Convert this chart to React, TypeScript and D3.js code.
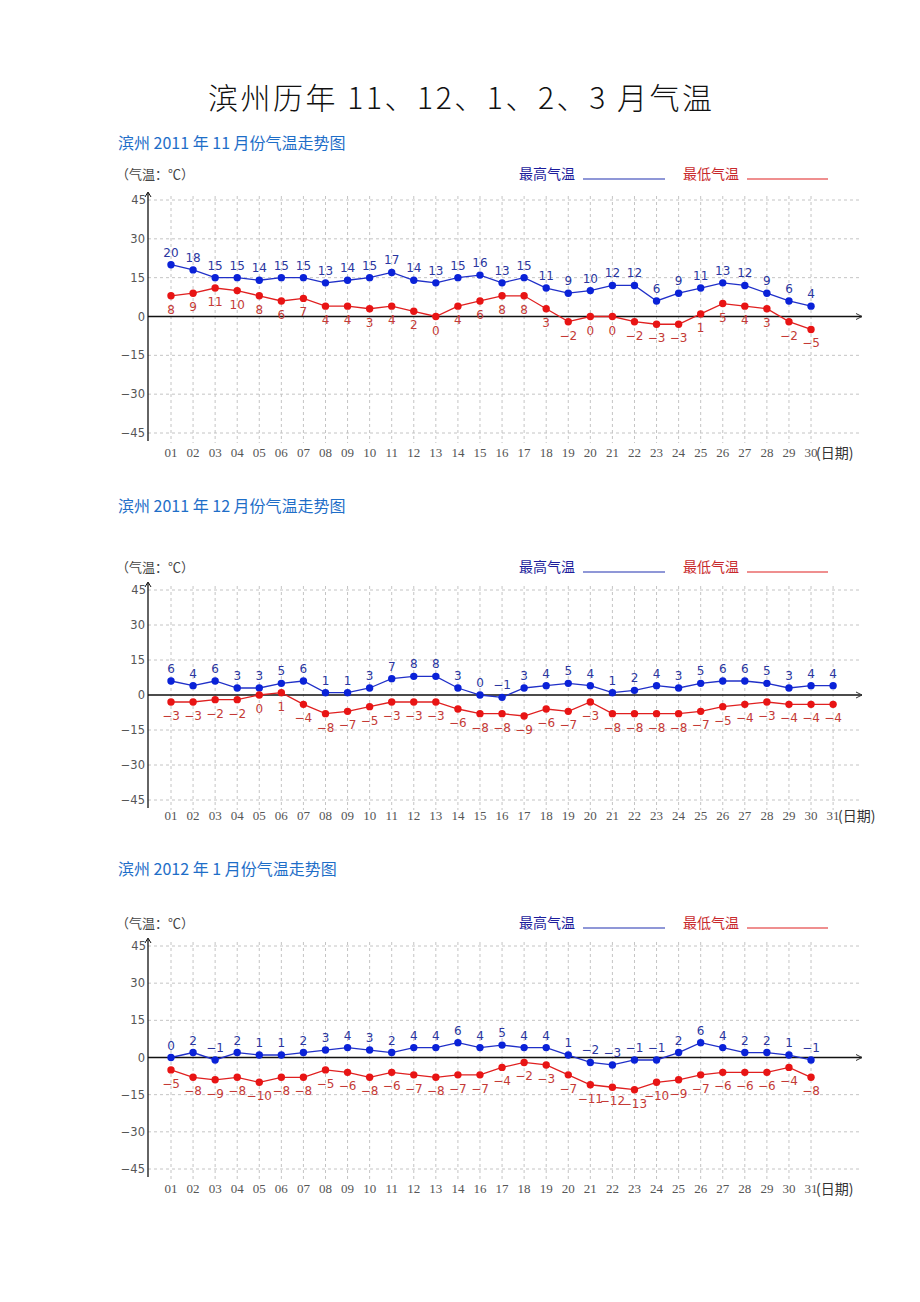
import * as d3 from "d3";

// 滨州 2011年11月
const novDays = ["01","02","03","04","05","06","07","08","09","10","11","12","13","14","15","16","17","18","19","20","21","22","23","24","25","26","27","28","29","30"];
const novHigh = [20,18,15,15,14,15,15,13,14,15,17,14,13,15,16,13,15,11,9,10,12,12,6,9,11,13,12,9,6,4];
const novLow = [8,9,11,10,8,6,7,4,4,3,4,2,0,4,6,8,8,3,-2,0,0,-2,-3,-3,1,5,4,3,-2,-5];

// 滨州 2011年12月
const decDays = ["01","02","03","04","05","06","07","08","09","10","11","12","13","14","15","16","17","18","19","20","21","22","23","24","25","26","27","28","29","30","31"];
const decHigh = [6,4,6,3,3,5,6,1,1,3,7,8,8,3,0,-1,3,4,5,4,1,2,4,3,5,6,6,5,3,4,4];
const decLow = [-3,-3,-2,-2,0,1,-4,-8,-7,-5,-3,-3,-3,-6,-8,-8,-9,-6,-7,-3,-8,-8,-8,-8,-7,-5,-4,-3,-4,-4,-4];

// 滨州 2012年1月 (原图缺15日)
const janDays = ["01","02","03","04","05","06","07","08","09","10","11","12","13","14","16","17","18","19","20","21","22","23","24","25","26","27","28","29","30","31"];
const janHigh = [0,2,-1,2,1,1,2,3,4,3,2,4,4,6,4,5,4,4,1,-2,-3,-1,-1,2,6,4,2,2,1,-1];
const janLow = [-5,-8,-9,-8,-10,-8,-8,-5,-6,-8,-6,-7,-8,-7,-7,-4,-2,-3,-7,-11,-12,-13,-10,-9,-7,-6,-6,-6,-4,-8];

const yTicks = [45, 30, 15, 0, -15, -30, -45];

const cjk = "'Noto Sans CJK SC', sans-serif";
const num = "'DejaVu Sans', Verdana, sans-serif";

const fmt = (v: number) => (v < 0 ? "−" + Math.abs(v) : String(v));

function TempChart({ title, days, high, low, subY, headY, y45, yN45, labelY }) {
  const step = 22.07;
  const x = d3.scaleLinear().domain([0, days.length - 1]).range([171, 171 + step * (days.length - 1)]);
  const y = d3.scaleLinear().domain([-45, 45]).range([yN45, y45]);
  const line = d3.line<number>().x((d, i) => x(i)).y((d) => y(d));
  const axisX0 = 148;
  const axisX1 = 862;
  const lastX = x(days.length - 1);

  return (
    <g>
      <text x={118} y={subY} dominantBaseline="central" fill="#1e6ec8" fontSize={16} fontFamily={cjk}>
        {title}
      </text>
      <text x={116} y={headY} dominantBaseline="central" fill="#444" fontSize={13} fontFamily={cjk}>
        （气温：℃）
      </text>
      <text x={519} y={headY} dominantBaseline="central" fill="#1c1c9c" fontSize={14} fontFamily={cjk}>
        最高气温
      </text>
      <line x1={583} x2={665} y1={headY + 6} y2={headY + 6} stroke="#2030b0" strokeWidth={1.2} />
      <text x={683} y={headY} dominantBaseline="central" fill="#c8282c" fontSize={14} fontFamily={cjk}>
        最低气温
      </text>
      <line x1={747} x2={828} y1={headY + 6} y2={headY + 6} stroke="#e02020" strokeWidth={1.2} />

      {/* grid */}
      {days.map((d, i) => (
        <line key={"v" + i} x1={x(i)} x2={x(i)} y1={y45 - 4} y2={yN45 + 10}
          stroke="#c4c4c4" strokeDasharray="3,3" strokeWidth={1} />
      ))}
      {yTicks.filter((t) => t !== 0).map((t) => (
        <line key={"h" + t} x1={axisX0} x2={axisX1} y1={y(t)} y2={y(t)}
          stroke="#c4c4c4" strokeDasharray="3,3" strokeWidth={1} />
      ))}

      {/* axes */}
      <line x1={axisX0} x2={axisX0} y1={y45 - 7} y2={yN45 + 8} stroke="#111" strokeWidth={1.3} />
      <path d={`M${axisX0 - 3},${y45 - 3} L${axisX0},${y45 - 8} L${axisX0 + 3},${y45 - 3}`} fill="none" stroke="#111" />
      <line x1={axisX0} x2={axisX1} y1={y(0)} y2={y(0)} stroke="#111" strokeWidth={1.3} />
      <path d={`M${axisX1 - 6},${y(0) - 3} L${axisX1},${y(0)} L${axisX1 - 6},${y(0) + 3}`} fill="none" stroke="#333" />

      {yTicks.map((t) => (
        <text key={"yt" + t} x={t === 45 ? 146 : 145} y={y(t)} textAnchor="end" dominantBaseline="central"
          fill="#555" fontSize={11.5} fontFamily={num}>
          {fmt(t)}
        </text>
      ))}

      {days.map((d, i) => (
        <text key={"xl" + i} x={x(i)} y={labelY} textAnchor="middle" dominantBaseline="central"
          fill="#555" fontSize={13} fontFamily="'Liberation Serif', serif">
          {d}
        </text>
      ))}
      <text x={lastX + 5} y={labelY} dominantBaseline="central" fill="#333" fontSize={14} fontFamily={cjk}>
        (日期)
      </text>

      {/* series */}
      <path d={line(high) || ""} fill="none" stroke="#2030c8" strokeWidth={1.3} />
      <path d={line(low) || ""} fill="none" stroke="#e02020" strokeWidth={1.3} />
      {high.map((v, i) => (
        <g key={"hp" + i}>
          <circle cx={x(i)} cy={y(v)} r={3.7} fill="#0a22d8" />
          <text x={x(i)} y={y(v) - 12} textAnchor="middle" dominantBaseline="central"
            fill="#2a36a0" fontSize={12} fontFamily={num}>
            {fmt(v)}
          </text>
        </g>
      ))}
      {low.map((v, i) => (
        <g key={"lp" + i}>
          <circle cx={x(i)} cy={y(v)} r={3.7} fill="#e81414" />
          <text x={x(i)} y={y(v) + 14} textAnchor="middle" dominantBaseline="central"
            fill="#c43a36" fontSize={12} fontFamily={num}>
            {fmt(v)}
          </text>
        </g>
      ))}
    </g>
  );
}

export default function App() {
  return (
    <svg width={920} height={1302} style={{ position: "absolute", left: 0, top: 0, background: "#fff" }}>
      <text x={460} y={96} textAnchor="middle" dominantBaseline="central" fill="#111" fontSize={30}
        fontFamily={cjk} fontWeight={300} textLength={504} lengthAdjust="spacing">
        滨州历年 11、12、1、2、3 月气温
      </text>
      <TempChart title="滨州 2011 年 11 月份气温走势图" days={novDays} high={novHigh} low={novLow}
        subY={142} headY={173} y45={200} yN45={433} labelY={452} />
      <TempChart title="滨州 2011 年 12 月份气温走势图" days={decDays} high={decHigh} low={decLow}
        subY={505} headY={566} y45={590} yN45={800} labelY={815} />
      <TempChart title="滨州 2012 年 1 月份气温走势图" days={janDays} high={janHigh} low={janLow}
        subY={868} headY={922} y45={946} yN45={1169} labelY={1188} />
    </svg>
  );
}
